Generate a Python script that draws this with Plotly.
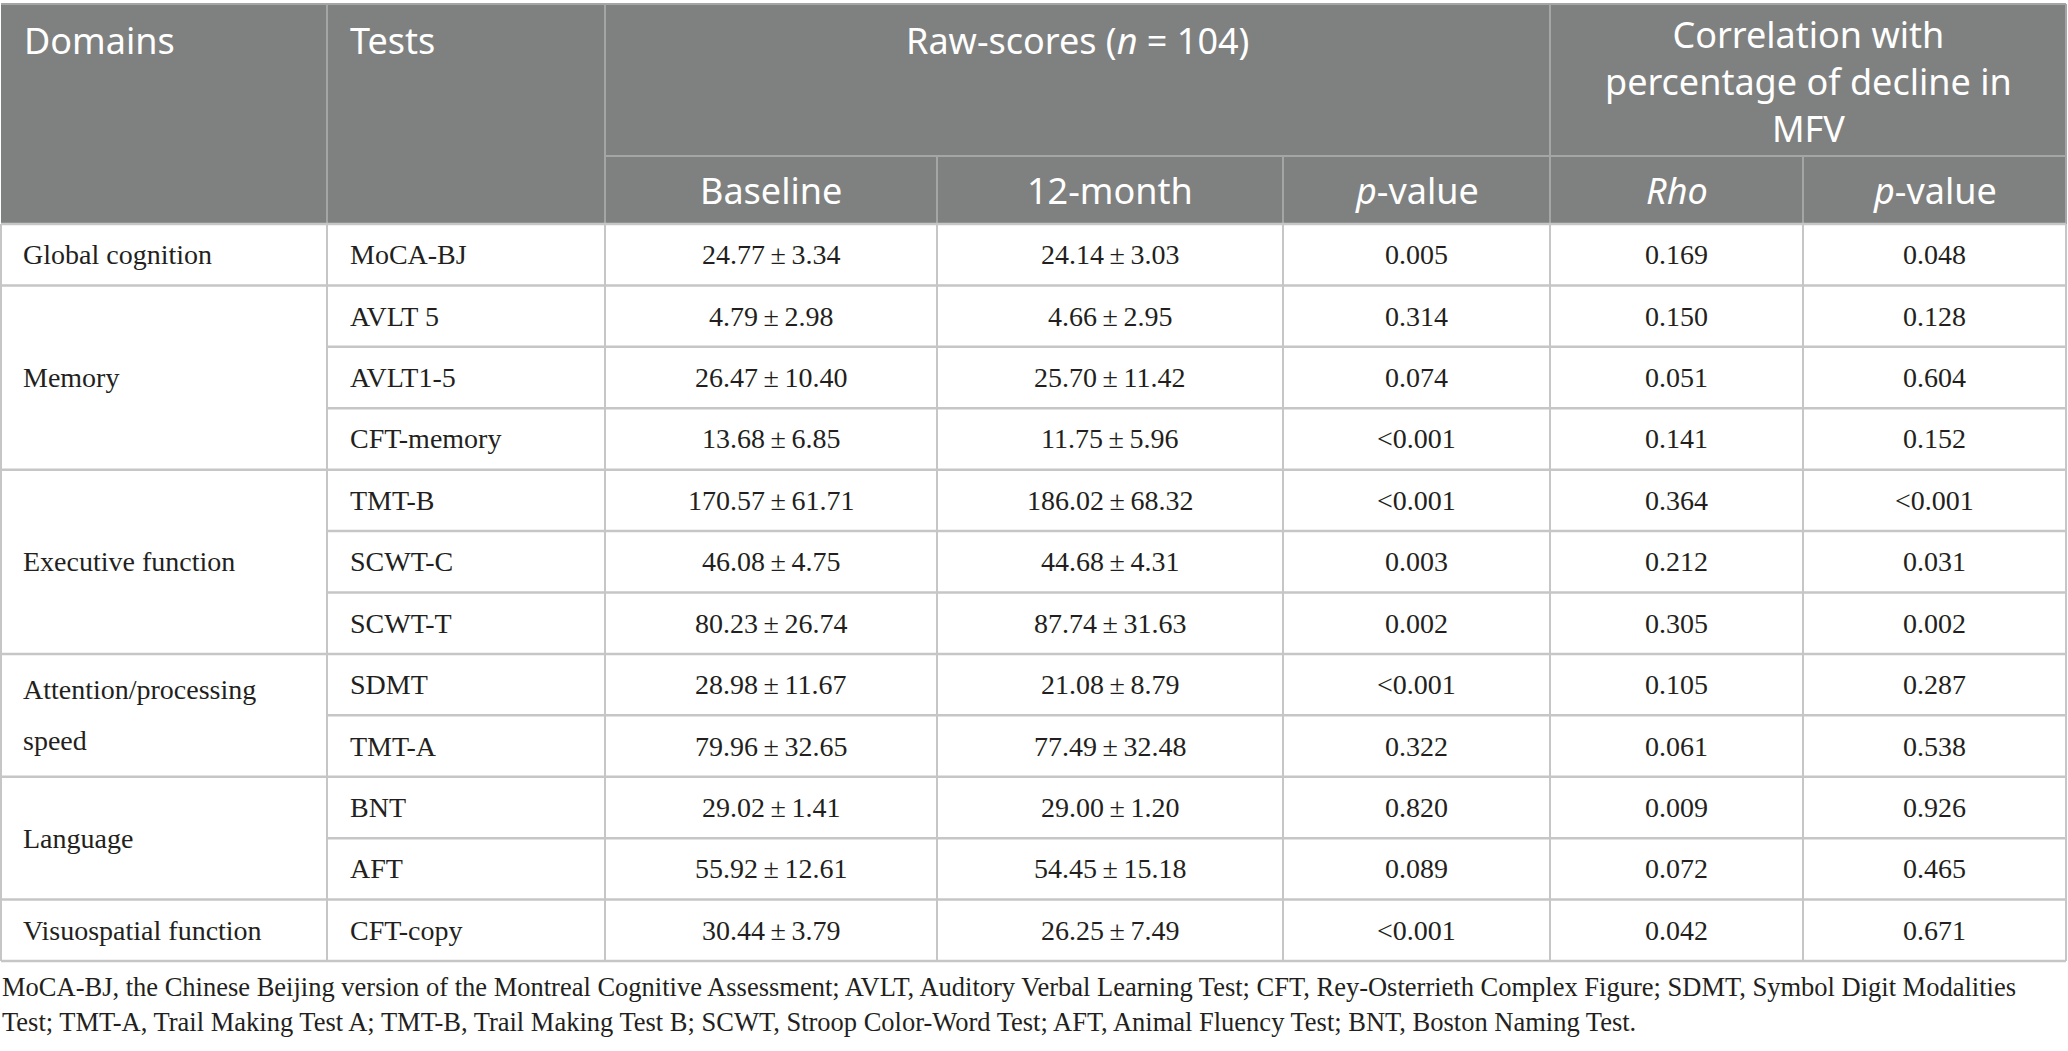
import plotly.graph_objects as go

# table content
domains = ["Global cognition", "Memory", "Executive function",
           "Attention/processing|speed", "Language", "Visuospatial function"]
domain_spans = [1, 3, 3, 2, 2, 1]
tests = ["MoCA-BJ", "AVLT 5", "AVLT1-5", "CFT-memory", "TMT-B", "SCWT-C",
         "SCWT-T", "SDMT", "TMT-A", "BNT", "AFT", "CFT-copy"]
baseline_mean = ["24.77", "4.79", "26.47", "13.68", "170.57", "46.08",
                 "80.23", "28.98", "79.96", "29.02", "55.92", "30.44"]
baseline_sd = ["3.34", "2.98", "10.40", "6.85", "61.71", "4.75",
               "26.74", "11.67", "32.65", "1.41", "12.61", "3.79"]
month12_mean = ["24.14", "4.66", "25.70", "11.75", "186.02", "44.68",
                "87.74", "21.08", "77.49", "29.00", "54.45", "26.25"]
month12_sd = ["3.03", "2.95", "11.42", "5.96", "68.32", "4.31",
              "31.63", "8.79", "32.48", "1.20", "15.18", "7.49"]
p_raw = ["0.005", "0.314", "0.074", "<0.001", "<0.001", "0.003",
         "0.002", "<0.001", "0.322", "0.820", "0.089", "<0.001"]
rho = ["0.169", "0.150", "0.051", "0.141", "0.364", "0.212",
       "0.305", "0.105", "0.061", "0.009", "0.072", "0.042"]
p_corr = ["0.048", "0.128", "0.604", "0.152", "<0.001", "0.031",
          "0.002", "0.287", "0.538", "0.926", "0.465", "0.671"]

header_top = ["Domains", "Tests", "Raw-scores (<i>n</i> = 104)",
              "Correlation with<br>percentage of decline in<br>MFV"]
header_sub = ["Baseline", "12-month", "<i>p</i>-value", "<i>Rho</i>", "<i>p</i>-value"]

footnote = [
    "MoCA-BJ, the Chinese Beijing version of the Montreal Cognitive Assessment; AVLT, Auditory Verbal "
    "Learning Test; CFT, Rey-Osterrieth Complex Figure; SDMT, Symbol Digit Modalities",
    "Test; TMT-A, Trail Making Test A; TMT-B, Trail Making Test B; SCWT, Stroop Color-Word Test; "
    "AFT, Animal Fluency Test; BNT, Boston Naming Test.",
]

# geometry (pixels)
W, H = 2068, 1051
cols = [1, 327, 605, 937, 1283, 1550, 1803, 2066]
top, sub_y, head_bot, bot = 4, 156, 224, 961
row_h = (bot - head_bot) / len(tests)

HEAD_BG = "#7f8180"
HEAD_LINE = "#a4a6a5"
GRID = "#c6c6c6"
TXT = "#231f20"
SANS = "Noto Sans"
SERIF = "Liberation Serif"

fig = go.Figure()
fig.add_trace(go.Scatter(x=[0, W], y=[0, H], mode="markers",
                         marker={"opacity": 0}, hoverinfo="skip", showlegend=False))


def line(x0, y0, x1, y1, color, width):
    fig.add_shape(type="line", xref="x", yref="y", x0=x0, y0=y0, x1=x1, y1=y1,
                  line={"color": color, "width": width}, layer="above")


def text(x, y, s, size, family, color, align="center"):
    fig.add_annotation(x=x, y=y, xref="x", yref="y", text=s, showarrow=False,
                       xanchor=align, yanchor="middle",
                       font={"size": size, "family": family, "color": color})


# header block
fig.add_shape(type="rect", xref="x", yref="y", x0=cols[0], y0=top, x1=cols[-1], y1=head_bot,
              fillcolor=HEAD_BG, line={"width": 0}, layer="below")
line(cols[0], top, cols[-1], top, HEAD_LINE, 2)
for c in [cols[1], cols[2], cols[5]]:
    line(c, top, c, head_bot, HEAD_LINE, 2)
for c in [cols[3], cols[4], cols[6]]:
    line(c, sub_y, c, head_bot, HEAD_LINE, 2)
line(cols[2], sub_y, cols[-1], sub_y, HEAD_LINE, 2)
line(cols[-1], top, cols[-1], head_bot, HEAD_LINE, 2)

text(cols[0] + 21, 40, header_top[0], 36, SANS, "white", "left")
text(cols[1] + 21, 40, header_top[1], 36, SANS, "white", "left")
text((cols[2] + cols[5]) / 2, 40, header_top[2], 36, SANS, "white")
text((cols[5] + cols[7]) / 2, 81, header_top[3], 36, SANS, "white")
for k, s in enumerate(header_sub):
    text((cols[k + 2] + cols[k + 3]) / 2, 190, s, 36, SANS, "white")

# body grid
for c in cols:
    line(c, head_bot, c, bot, GRID, 2)
group_edges = set()
acc = 0
for n in domain_spans:
    acc += n
    group_edges.add(acc)
for i in range(len(tests) + 1):
    y = head_bot + i * row_h
    x0 = cols[0] if (i == 0 or i in group_edges) else cols[1]
    line(x0, y, cols[-1], y, GRID, 2.5)

# body text
pm = "\u2009\u00b1\u2009"
for i in range(len(tests)):
    yc = head_bot + (i + 0.5) * row_h
    text(cols[1] + 21, yc, tests[i], 28, SERIF, TXT, "left")
    text((cols[2] + cols[3]) / 2, yc, baseline_mean[i] + pm + baseline_sd[i], 28, SERIF, TXT)
    text((cols[3] + cols[4]) / 2, yc, month12_mean[i] + pm + month12_sd[i], 28, SERIF, TXT)
    text((cols[4] + cols[5]) / 2, yc, p_raw[i], 28, SERIF, TXT)
    text((cols[5] + cols[6]) / 2, yc, rho[i], 28, SERIF, TXT)
    text((cols[6] + cols[7]) / 2, yc, p_corr[i], 28, SERIF, TXT)

start = 0
for d, n in zip(domains, domain_spans):
    yc = head_bot + (start + n / 2) * row_h
    parts = d.split("|")
    for k, s in enumerate(parts):
        text(cols[0] + 20, yc + (k - (len(parts) - 1) / 2) * 51, s, 28, SERIF, TXT, "left")
    start += n

# footnote
for k, s in enumerate(footnote):
    text(0, 987 + k * 35, s, 26.5, SERIF, TXT, "left")

fig.update_layout(
    width=W, height=H,
    margin={"l": 0, "r": 0, "t": 0, "b": 0},
    plot_bgcolor="white", paper_bgcolor="white",
    xaxis={"range": [0, W], "visible": False, "fixedrange": True},
    yaxis={"range": [H, 0], "visible": False, "fixedrange": True},
    showlegend=False,
)

fig.write_html("out.html", config={"displayModeBar": False},
               post_script="document.body.style.margin='0';")
